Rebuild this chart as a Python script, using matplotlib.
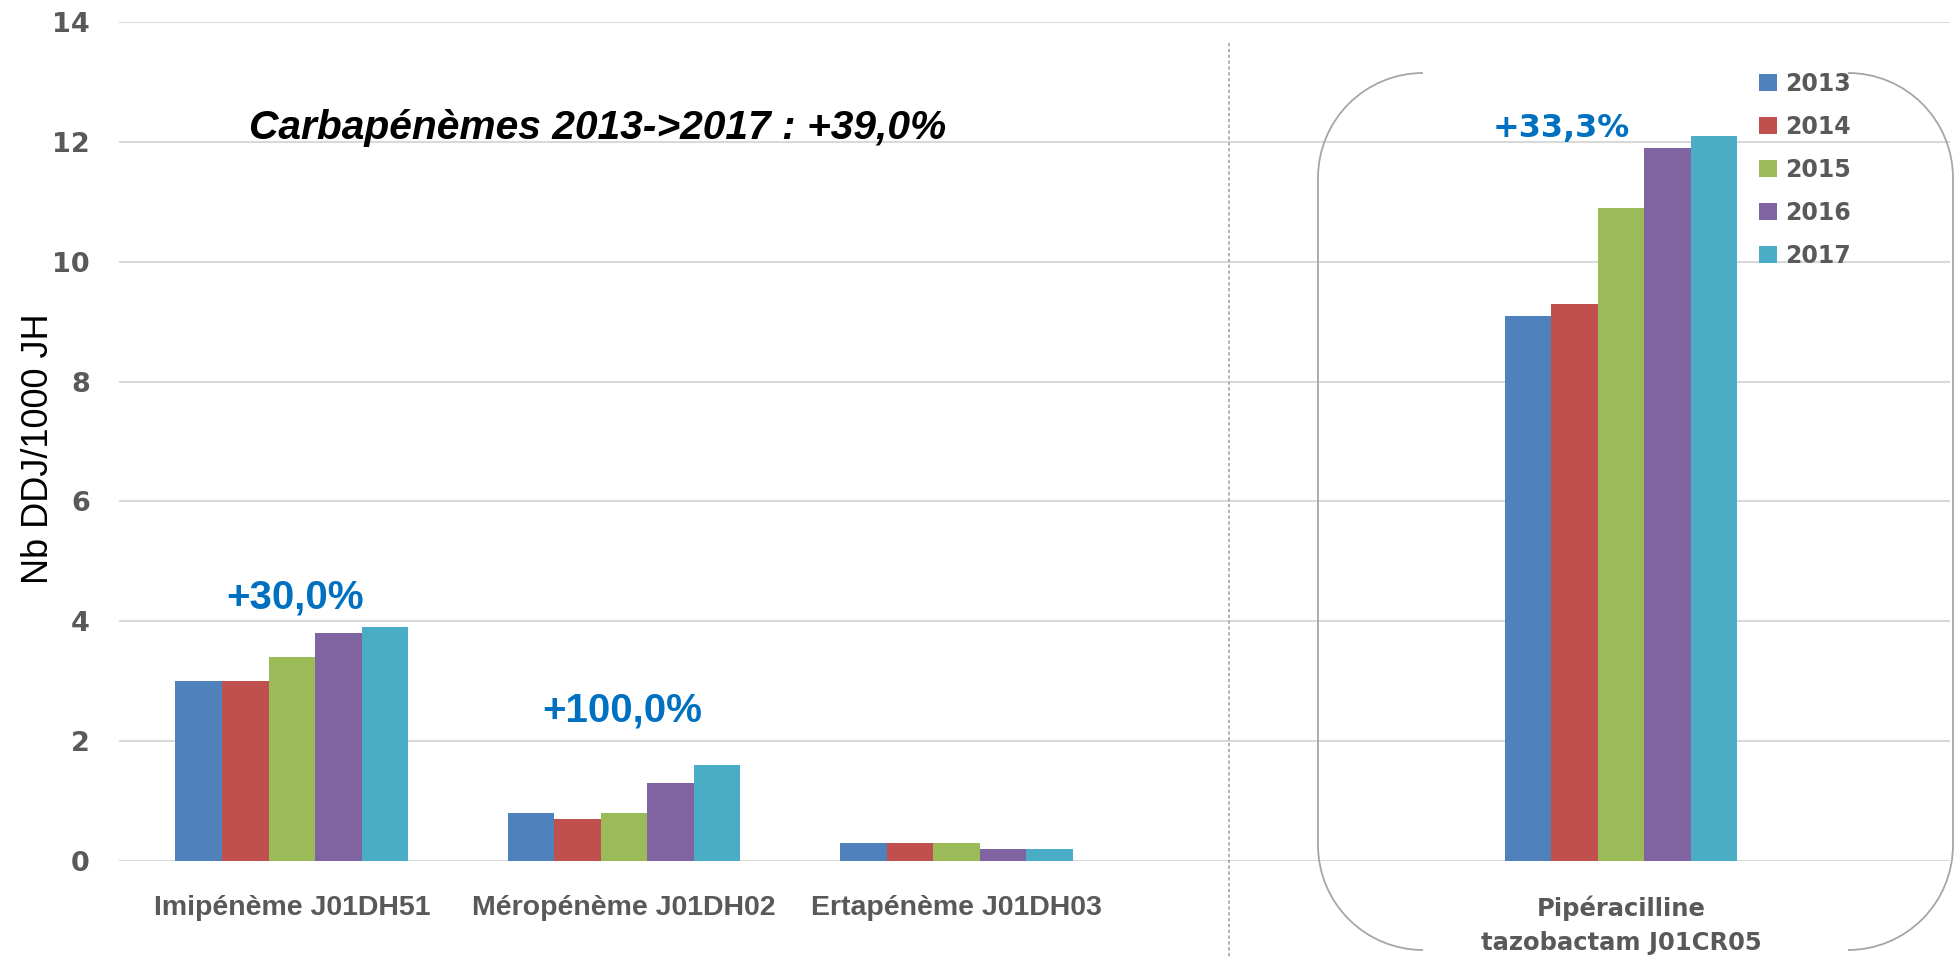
import numpy as np
import matplotlib; matplotlib.use("Agg")
import matplotlib.pyplot as plt
from matplotlib.patches import Arc
from matplotlib.lines import Line2D

# --- data ---
molecules = ["Imipénème J01DH51", "Méropénème J01DH02", "Ertapénème J01DH03",
             "Pipéracilline\ntazobactam J01CR05"]
years = ["2013", "2014", "2015", "2016", "2017"]
ddj_2013 = [3.0, 0.8, 0.3, 9.1]
ddj_2014 = [3.0, 0.7, 0.3, 9.3]
ddj_2015 = [3.4, 0.8, 0.3, 10.9]
ddj_2016 = [3.8, 1.3, 0.2, 11.9]
ddj_2017 = [3.9, 1.6, 0.2, 12.1]
evol_labels = ["+30,0%", "+100,0%", "", "+33,3%"]
title_txt = "Carbapénèmes 2013->2017 : +39,0%"

colors = ["#4F81BD", "#C0504D", "#9BBB59", "#8064A2", "#4BACC6"]
GRAY = "#595959"
W, H = 1959, 958

fig = plt.figure(figsize=(W/100, H/100), dpi=100)
ax = fig.add_axes([119/W, 1-861/H, (1950-119)/W, (861-22)/H])

slots = np.array([0, 1, 2, 4])          # empty slot between carbapenems and pip/taz
bw = 0.14
series = [ddj_2013, ddj_2014, ddj_2015, ddj_2016, ddj_2017]
for i, (yr, vals) in enumerate(zip(years, series)):
    ax.bar(slots + (i-2)*bw, vals, bw, color=colors[i], label=yr, zorder=3, lw=0)

ax.set_xlim(-0.52, 4.99); ax.set_ylim(0, 14)
ax.set_yticks(np.arange(0, 15, 2))
ax.grid(axis="y", color="#D9D9D9", lw=1.5, zorder=0)
for s in ax.spines.values(): s.set_visible(False)
ax.tick_params(length=0)
ax.tick_params(axis="y", pad=21)
for t in ax.get_yticklabels():
    t.set_fontfamily("DejaVu Sans"); t.set_fontweight("bold"); t.set_fontsize(19.5); t.set_color(GRAY)

ax.set_xticks(slots)
ax.set_xticklabels(molecules)
ax.tick_params(axis="x", pad=24.5)
for j, t in enumerate(ax.get_xticklabels()):
    t.set_color(GRAY); t.set_fontweight("bold")
    if j < 3:
        t.set_fontfamily("Liberation Sans"); t.set_fontsize(20.5)
    else:
        t.set_fontfamily("DejaVu Sans"); t.set_fontsize(17.5); t.set_linespacing(1.55)

ax.set_ylabel("Nb DDJ/1000 JH", fontsize=26, family="Liberation Sans", color="black")
ax.yaxis.set_label_coords(-0.0343, 0.491)

# percent change annotations (baseline positions)
evol_xy = [(0.01, 4.22), (0.995, 2.32), None, (3.82, 12.08)]
for lab, xy in zip(evol_labels, evol_xy):
    if not lab: continue
    pip = xy[0] > 3
    ax.text(xy[0], xy[1], lab, ha="center", va="baseline", color="#0070C0", fontweight="bold",
            family="DejaVu Sans" if pip else "Liberation Sans", fontsize=23 if pip else 29)
ax.text(-0.13, 12.05, title_txt, ha="left", va="baseline", fontsize=29.3,
        fontweight="bold", fontstyle="italic", family="Liberation Sans", color="black")

# dashed separator
ax.add_line(Line2D([2.82, 2.82], [13.65, -1.6], color="#A6A6A6", lw=1.2,
                   ls=(0, (2, 1.5)), clip_on=False))

# rounded bracket around pip/taz (pixel coords, y from top)
tr = fig.dpi_scale_trans
def px(x, y): return x/100, (H-y)/100
r = 105; x0, x1, y0, y1 = 1318, 1953, 73, 950
bc = "#A6A6A6"
for xs, a_top, a_bot, cx in [(x0, 90, 180, x0+r), (x1, 0, 90, x1-r)]:
    fig.add_artist(Line2D(*zip(px(xs, y0+r), px(xs, y1-r)), transform=tr, color=bc, lw=1.3))
    fig.add_artist(Arc(px(cx, y0+r), 2*r/100, 2*r/100, theta1=a_top, theta2=a_bot,
                       transform=tr, color=bc, lw=1.3))
for cx, t1, t2 in [(x0+r, 180, 270), (x1-r, 270, 360)]:
    fig.add_artist(Arc(px(cx, y1-r), 2*r/100, 2*r/100, theta1=t1, theta2=t2,
                       transform=tr, color=bc, lw=1.3))

leg = ax.legend(loc="upper left", bbox_to_anchor=(1759/W, 1-72/H), bbox_transform=fig.transFigure,
                frameon=False, borderpad=0, borderaxespad=0, handlelength=0.75, handleheight=0.75,
                handletextpad=0.35, labelspacing=0.8,
                prop=dict(family="DejaVu Sans", weight="bold", size=17))
for t in leg.get_texts(): t.set_color(GRAY)

fig.savefig("out.png", dpi=100)
